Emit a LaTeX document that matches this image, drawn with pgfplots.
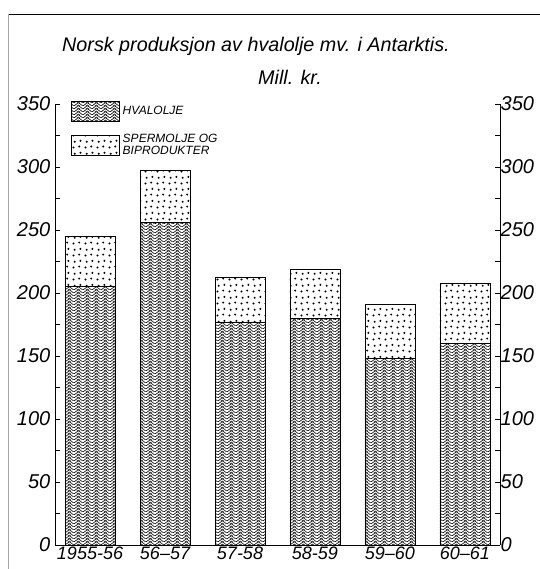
\documentclass[border=0pt]{standalone}
\usepackage{fontspec}
\setmainfont{Liberation Sans}
\usepackage{pgfplots}
\pgfplotsset{compat=1.18}
\usetikzlibrary{patterns}

% dense chevron lines for the whale oil part
\pgfdeclarepatternformonly{zigzag}{\pgfpointorigin}{\pgfpoint{7pt}{2pt}}{\pgfpoint{7pt}{2pt}}{%
  \pgfsetlinewidth{0.5pt}%
  \foreach \k in {-2,-1,0}{%
    \pgfpathmoveto{\pgfpoint{0pt}{\k*2pt}}%
    \pgfpathlineto{\pgfpoint{3.5pt}{\k*2pt+2.8pt}}%
    \pgfpathlineto{\pgfpoint{7pt}{\k*2pt}}%
  }%
  \pgfusepath{stroke}%
}
% sparse dots for sperm oil and by-products
\pgfdeclarepatternformonly{sdots}{\pgfpointorigin}{\pgfpoint{9pt}{9pt}}{\pgfpoint{9pt}{9pt}}{%
  \pgfpathcircle{\pgfpoint{1.2pt}{1.2pt}}{0.9pt}%
  \pgfpathcircle{\pgfpoint{5.8pt}{2.0pt}}{0.9pt}%
  \pgfpathcircle{\pgfpoint{2.2pt}{5.8pt}}{0.9pt}%
  \pgfpathcircle{\pgfpoint{6.8pt}{6.6pt}}{0.9pt}%
  \pgfusepath{fill}%
}

\pgfplotstableread{
x hval sperm
0 205 40
1 256 41
2 177 35
3 180 39
4 148 43
5 160 48
}\hvaldata

\newcommand{\tfont}{\fontsize{15}{15}\selectfont\itshape}

\begin{document}
\begin{tikzpicture}
\useasboundingbox (0,0) rectangle (405pt,426.75pt);
\draw[line width=0.9pt] (6pt,416pt) -- (405pt,416pt);
\draw[gray!70, line width=0.4pt] (6pt,0) -- (6pt,416pt);

\node[font=\fontsize{14.8}{17}\selectfont\itshape] at (192pt,392pt)
  {Norsk produksjon av hvalolje mv. i Antarktis.};
\node[font=\fontsize{14.8}{17}\selectfont\itshape] at (217.5pt,369pt) {Mill. kr.};

\begin{axis}[
    at={(41.25pt,18pt)}, anchor=south west,
    scale only axis,
    width=333.75pt, height=330.75pt,
    xmin=-0.467, xmax=5.467,
    ymin=0, ymax=350,
    axis x line*=bottom,
    axis y line*=left,
    axis line style={line width=0.6pt},
    ybar stacked,
    bar width=37.5pt,
    xtick={0,...,5},
    xticklabels={\textit{1955-56},\textit{56--57},\textit{57-58},\textit{58-59},\textit{59--60},\textit{60--61}},
    xtick style={draw=none},
    ytick={0,50,...,350},
    yticklabel={\tfont\pgfmathprintnumber[assume math mode=true]{\tick}},
    minor y tick num=1,
    tick style={line width=0.6pt, black},
    major tick length=4pt, minor tick length=4pt,
    xticklabel style={font=\fontsize{13.5}{13.5}\selectfont\itshape, yshift=2pt},
    legend style={at={(0.027,1.013)}, anchor=north west, draw=none, fill=none,
        font=\fontsize{9}{9}\selectfont\itshape, row sep=7pt,
        nodes={align=left}},
    legend cell align=left,
    legend image code/.code={\draw[#1, line width=0.6pt] (0pt,-7.5pt) rectangle (36pt,7.5pt);},
]
\addplot[draw=black, line width=0.6pt, pattern=zigzag] table[x=x, y=hval] {\hvaldata};
\addlegendentry{HVALOLJE}
\addplot[draw=black, line width=0.6pt, pattern=sdots] table[x=x, y=sperm] {\hvaldata};
\addlegendentry{SPERMOLJE OG\\BIPRODUKTER}
\end{axis}

\begin{axis}[
    at={(41.25pt,18pt)}, anchor=south west,
    scale only axis,
    width=333.75pt, height=330.75pt,
    xmin=-0.467, xmax=5.467,
    ymin=0, ymax=350,
    axis x line=none,
    axis y line*=right,
    axis line style={line width=0.6pt},
    ytick={0,50,...,350},
    yticklabel={\tfont\pgfmathprintnumber[assume math mode=true]{\tick}},
    minor y tick num=1,
    tick style={line width=0.6pt, black},
    major tick length=4pt, minor tick length=4pt,
    yticklabel style={xshift=-3pt},
]
\addplot[draw=none] coordinates {(0,0)};
\end{axis}
\end{tikzpicture}
\end{document}
